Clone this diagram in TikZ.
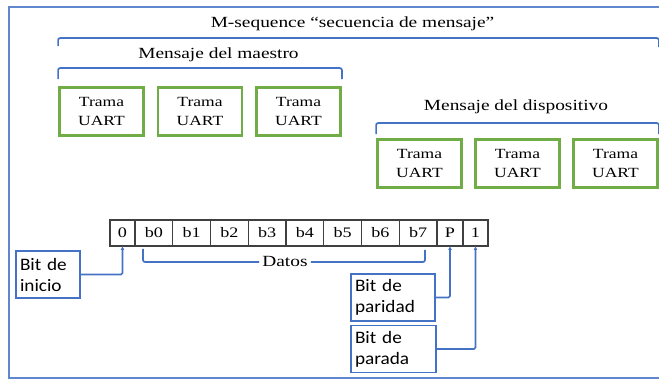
\documentclass[tikz,border=0pt]{standalone}
\usepackage{fontspec}
\setmainfont{Liberation Serif}[FakeStretch=1.25]
\newfontfamily\notefont{Carlito}[FakeStretch=1.1]
\usepackage{tikz}
\usetikzlibrary{positioning}
\usetikzlibrary{arrows.meta}
\definecolor{lineblue}{RGB}{68,114,196}
\definecolor{tramagreen}{RGB}{112,173,71}
\tikzstyle{trama}   = [draw=tramagreen, line width=2.8pt, minimum width=84pt, minimum height=48pt,
                       align=center, inner sep=0pt, font=\fontsize{14}{19}\selectfont]
\tikzstyle{bitcell} = [draw=black!75, line width=1.1pt, minimum height=26pt, inner sep=0pt, outer sep=0pt,
                       text height=10pt, text depth=0pt, font=\fontsize{14.5}{14.5}\selectfont]
\tikzstyle{bitnote} = [draw=lineblue, line width=1.2pt, minimum height=47pt, align=left, inner xsep=4pt,
                       font=\notefont\fontsize{17.5}{21}\selectfont]
\tikzstyle{label}   = [inner sep=1pt, font=\fontsize{15.5}{18}\selectfont]
\tikzstyle{brace}   = [lineblue, line width=1.7pt, rounded corners=2pt]
\tikzstyle{pointer} = [lineblue, line width=1.7pt, rounded corners=1.5pt, -{Latex[length=4pt,width=4pt]}]

\begin{document}
\begin{tikzpicture}[x=1pt,y=-1pt]
    \useasboundingbox (0,0) rectangle (659,379);
    \draw[lineblue!85, line width=1.4pt] (664,7) -- (9,7) -- (9,378) -- (664,378);
    % tramas del maestro y del dispositivo
    \node at (101.5,111.5) [trama] (mA) {Trama\\UART};
    \node at (200,111.5)   [trama] (mB) {Trama\\UART};
    \node at (298.5,111.5) [trama] (mC) {Trama\\UART};
    \node at (419.5,163.5) [trama] (dA) {Trama\\UART};
    \node at (517.5,163.5) [trama] (dB) {Trama\\UART};
    \node at (615.5,163.5) [trama] (dC) {Trama\\UART};
    \node at (352.5,24)  [label] (nSeq)  {M-sequence “secuencia de mensaje”};
    \node at (218.5,55)  [label] (nMae)  {Mensaje del maestro};
    \node at (516,107)   [label] (nDisp) {Mensaje del dispositivo};
    \draw[brace] ([yshift=40pt]mA.north west) -- ([yshift=48pt]mA.north west) -| ([yshift=91pt]dC.north east);
    \draw[brace] ([yshift=7pt]mA.north west)  -- ([yshift=18pt]mA.north west) -| ([yshift=7pt]mC.north east);
    \draw[brace] ([yshift=4pt]dA.north west)  -- ([yshift=15pt]dA.north west) -| ([yshift=4pt]dC.north east);
    % trama UART bit a bit
    \node at (122.5,233)      [bitcell, minimum width=25pt]    (c0)  {0};
    \node [right=0pt of c0,  bitcell, minimum width=37.75pt] (cb0) {b0};
    \node [right=0pt of cb0, bitcell, minimum width=37.75pt] (cb1) {b1};
    \node [right=0pt of cb1, bitcell, minimum width=37.75pt] (cb2) {b2};
    \node [right=0pt of cb2, bitcell, minimum width=37.75pt] (cb3) {b3};
    \node [right=0pt of cb3, bitcell, minimum width=37.75pt] (cb4) {b4};
    \node [right=0pt of cb4, bitcell, minimum width=37.75pt] (cb5) {b5};
    \node [right=0pt of cb5, bitcell, minimum width=37.75pt] (cb6) {b6};
    \node [right=0pt of cb6, bitcell, minimum width=37.75pt] (cb7) {b7};
    \node [right=0pt of cb7, bitcell, minimum width=26pt]    (cP)  {P};
    \node [right=0pt of cP,  bitcell, minimum width=25pt]    (c1)  {1};
    \node at (285,262) [label, inner xsep=3pt] (nDatos) {Datos};
    \draw[brace] ([xshift=8pt,yshift=-3pt]cb0.south west) |- (nDatos.west);
    \draw[brace] (nDatos.east) -| ([xshift=-12pt,yshift=-4pt]cb7.south east);
    % notas
    \node at (48,274.5)  [bitnote, text width=56pt]   (nInicio)  {Bit de\\inicio};
    \node at (393,297.5) [bitnote, text width=76pt]   (nParidad) {Bit de\\paridad};
    \node at (393.5,349) [bitnote, text width=77pt]   (nParada)  {Bit de\\parada};
    \draw[pointer] (nInicio.east)  -| (c0.south);
    \draw[pointer] (nParidad.east) -| (cP.south);
    \draw[pointer] (nParada.east)  -| (c1.south);
\end{tikzpicture}
\end{document}
